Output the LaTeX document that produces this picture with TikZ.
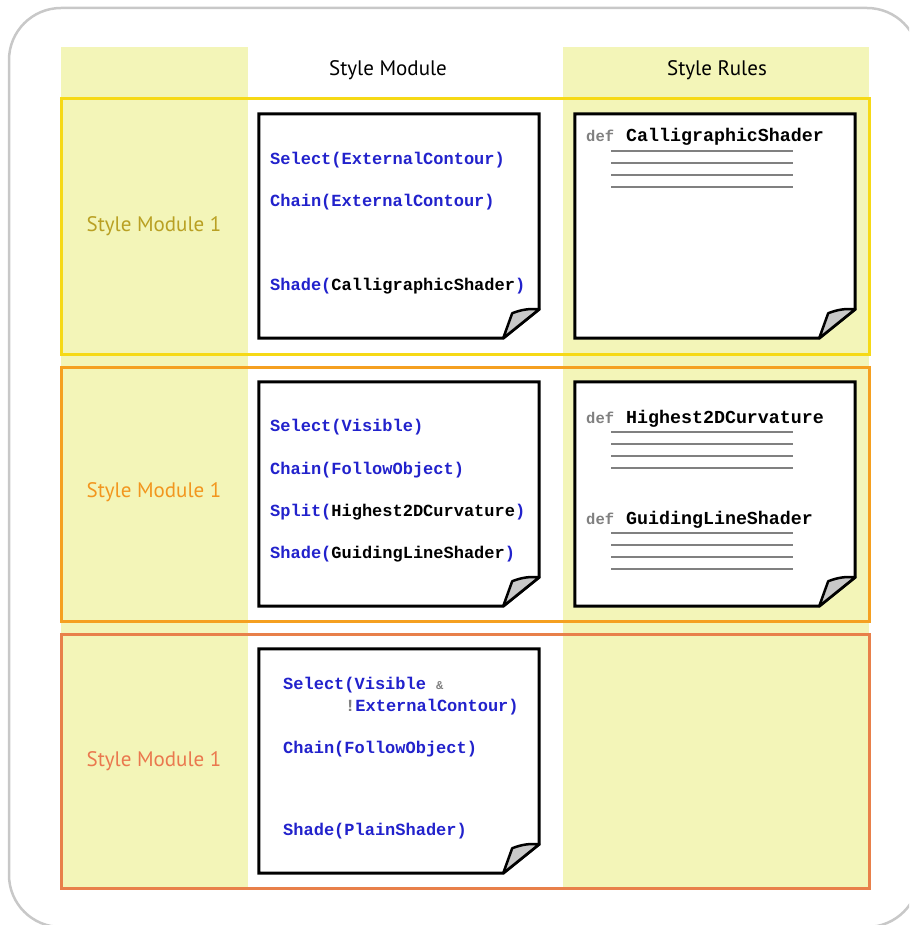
\documentclass[tikz,border=0pt]{standalone}
\usepackage{xcolor}
\usepackage{fontspec}
\usepackage{tikz}
\usetikzlibrary{calc}
\newfontfamily\labelfont{PT Sans}
\newfontfamily\codefont{Liberation Mono}
\definecolor{smFill}{RGB}{243,245,184}
\definecolor{smFrame}{RGB}{200,200,200}
\definecolor{rowOne}{RGB}{246,217,22}
\definecolor{rowTwo}{RGB}{245,160,32}
\definecolor{rowThree}{RGB}{232,128,74}
\definecolor{labOne}{RGB}{185,160,35}
\definecolor{labTwo}{RGB}{242,150,30}
\definecolor{labThree}{RGB}{234,120,78}
\definecolor{codeBlue}{RGB}{34,34,204}
\definecolor{defGray}{RGB}{128,128,128}
\definecolor{foldGray}{RGB}{200,200,200}

\begin{document}
\begin{tikzpicture}[
  x=1pt, y=-1pt,
  outer/.style={draw=smFrame, line width=2.5pt, rounded corners=52pt},
  colfill/.style={fill=smFill, draw=none},
  rowframe/.style={draw=#1, line width=3pt},
  note/.style={draw=none, minimum width=280pt, minimum height=224pt, inner sep=0pt},
  paper/.style={draw=black, fill=white, line width=3pt, line join=miter},
  fold/.style={draw=black, fill=foldGray, line width=2.5pt, line join=round},
  head/.style={font=\labelfont\fontsize{21}{25}\selectfont, text=black},
  modlabel/.style={font=\labelfont\fontsize{21}{25}\selectfont},
  code/.style={anchor=base west, inner sep=0pt, text=codeBlue,
    font=\codefont\bfseries\fontsize{17}{20}\selectfont},
  defkw/.style={anchor=base west, inner sep=0pt, text=defGray,
    font=\codefont\bfseries\fontsize{15.5}{18}\selectfont},
  defname/.style={anchor=base west, inner sep=0pt, text=black,
    font=\codefont\bfseries\fontsize{18.3}{21}\selectfont},
  ruleline/.style={draw=defGray, line width=1.2pt}
]
\useasboundingbox (0,0) rectangle (909,925);
\clip (0,0) rectangle (909,925);
\draw[outer] (9,8) rectangle (919,927);

% columns
\fill[colfill] (61,47) rectangle (248,889);
\fill[colfill] (563,47) rectangle (869,889);
\node[head] (hmod) at (388,70) {Style Module};
\node[head] (hrules) at (717,70) {Style Rules};

% rows
\draw[rowframe=rowOne] (61.5,99) rectangle (869,354);
\draw[rowframe=rowTwo] (61.5,367) rectangle (869,621);
\draw[rowframe=rowThree] (61.5,634) rectangle (869,888);
\node[modlabel, text=labOne] (mod1) at (154,226) {Style Module 1};
\node[modlabel, text=labTwo] (mod2) at (154,492) {Style Module 1};
\node[modlabel, text=labThree] (mod3) at (154,761) {Style Module 1};

% notes
\node[note] (codeA) at (399,226) {};
\node[note] (ruleA) at (715,226) {};
\node[note] (codeB) at (399,494) {};
\node[note] (ruleB) at (715,494) {};
\node[note] (codeC) at (399,761) {};
\foreach \n in {codeA,ruleA,codeB,ruleB,codeC}{
  \draw[paper] (\n.north west) -- (\n.north east) -- ([yshift=29pt]\n.south east)
    -- ([xshift=-36pt]\n.south east) -- (\n.south west) -- cycle;
  \draw[fold] ([yshift=29pt]\n.south east) -- ([xshift=-36pt]\n.south east)
    -- ([xshift=-27pt,yshift=25pt]\n.south east) to[bend left=12] cycle;
}

% style module 1
\node[code] (selA) at (270,165) {Select(ExternalContour)};
\node[code] (chA) at (270,207) {Chain(ExternalContour)};
\node[code] (shA) at (270,290) {Shade(\textcolor{black}{CalligraphicShader})};
\node[defkw] (defA) at (586,142) {def};
\node[defname] (nameA) at (626,142) {CalligraphicShader};
\foreach \y in {151,163,175,187}
  \draw[ruleline] (611,\y) -- (793,\y);

% style module 2
\node[code] (selB) at (270,431) {Select(Visible)};
\node[code] (chB) at (270,474) {Chain(FollowObject)};
\node[code] (spB) at (270,516) {Split(\textcolor{black}{Highest2DCurvature})};
\node[code] (shB) at (270,558) {Shade(\textcolor{black}{GuidingLineShader})};
\node[defkw] (defB) at (586,423) {def};
\node[defname] (nameB) at (626,423) {Highest2DCurvature};
\node[defkw] (defC) at (586,524) {def};
\node[defname] (nameC) at (626,524) {GuidingLineShader};
\foreach \y in {432,444,456,468,533,545,557,569}
  \draw[ruleline] (611,\y) -- (793,\y);

% style module 3
\node[code] (selC) at (283,689) {Select(Visible \textcolor{defGray}{\fontsize{12}{14}\selectfont\&}};
\node[code] (selD) at (345,711) {\textcolor{defGray}{!}ExternalContour)};
\node[code] (chC) at (283,753) {Chain(FollowObject)};
\node[code] (shC) at (283,835) {Shade(PlainShader)};
\end{tikzpicture}
\end{document}
